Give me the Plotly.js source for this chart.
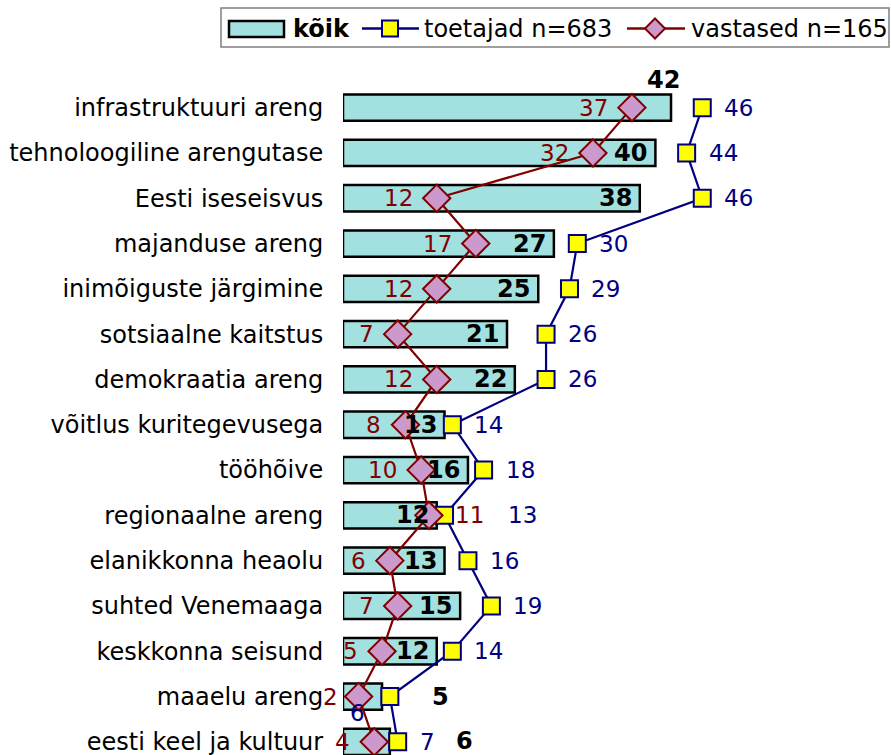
<!DOCTYPE html>
<html>
<head>
<meta charset="utf-8">
<script src="https://cdn.plot.ly/plotly-3.0.1.min.js"></script>
<style>html,body{margin:0;padding:0;background:#fff;}#chart{width:891px;height:755px;}</style>
</head>
<body>
<div id="chart"></div>
<script>
// ---- data ----
const categories = ["infrastruktuuri areng","tehnoloogiline arengutase","Eesti iseseisvus","majanduse areng","inimõiguste järgimine","sotsiaalne kaitstus","demokraatia areng","võitlus kuritegevusega","tööhõive","regionaalne areng","elanikkonna heaolu","suhted Venemaaga","keskkonna seisund","maaelu areng","eesti keel ja kultuur"];
const koik = [42,40,38,27,25,21,22,13,16,12,13,15,12,5,6];
const toetajad = [46,44,46,30,29,26,26,14,18,13,16,19,14,6,7];
const vastased = [37,32,12,17,12,7,12,8,10,11,6,7,5,2,4];
const seriesNames = ["kõik","toetajad n=683","vastased n=165"];

// ---- style ----
const FONT = "DejaVu Sans, Verdana, sans-serif";
const FS_CAT = 24;   // category + legend text
const FS_NUM = 23;   // value labels
const FS_BOLD = 24;  // bold bar labels
const BAR_FILL = "#a3e0e0";
const NAVY = "#000080";
const DRED = "#800000";
const PINK = "#cc99cc";
const YEL = "#ffff00";

const W = 891, H = 755, ML = 343, MT = 85;
const PW = W - ML, PH = H - MT;
const px2x = p => (p - ML) / PW;
const py2y = p => (H - p) / PH;

// label placement tweaks (styles only)
const koikTweak = {0:{xanchor:"center", xshift:-8, yshift:28}, 13:{xanchor:"center", xshift:58}, 14:{xanchor:"center", xshift:75, yshift:1}};
const toetTweak = {9:{xshift:61}, 13:{xanchor:"center", xshift:-32, yshift:-16}};
const vastTweak = {9:{xanchor:"left", xshift:24}, 13:{xshift:-19}};

const traces = [
  {type:"bar", orientation:"h", y:categories, x:koik, width:0.58, name:seriesNames[0],
   marker:{color:BAR_FILL, line:{color:"#000", width:2.5}}, hoverinfo:"x+y", showlegend:false},
  {type:"scatter", mode:"lines+markers", y:categories, x:toetajad, name:seriesNames[1],
   line:{color:NAVY, width:2.2}, marker:{symbol:"square", size:17, color:YEL, line:{color:NAVY, width:2}},
   cliponaxis:false, showlegend:false},
  {type:"scatter", mode:"lines+markers", y:categories, x:vastased, name:seriesNames[2],
   line:{color:DRED, width:2.2}, marker:{symbol:"diamond", size:21, color:PINK, line:{color:DRED, width:2}},
   cliponaxis:false, showlegend:false}
];

const annotations = [];
categories.forEach((c,i)=>{
  const kt = koikTweak[i] || {};
  annotations.push({x:koik[i], y:c, xref:"x", yref:"y", text:"<b>"+koik[i]+"</b>", showarrow:false,
    xanchor:kt.xanchor||"right", xshift:(kt.xshift!==undefined?kt.xshift:-6), yshift:kt.yshift||0,
    font:{family:FONT, size:FS_BOLD, color:"#000"}});
  const tt = toetTweak[i] || {};
  annotations.push({x:toetajad[i], y:c, xref:"x", yref:"y", text:String(toetajad[i]), showarrow:false,
    xanchor:tt.xanchor||"left", xshift:(tt.xshift!==undefined?tt.xshift:20), yshift:tt.yshift||0,
    font:{family:FONT, size:FS_NUM, color:NAVY}});
  const vt = vastTweak[i] || {};
  annotations.push({x:vastased[i], y:c, xref:"x", yref:"y", text:String(vastased[i]), showarrow:false,
    xanchor:vt.xanchor||"right", xshift:(vt.xshift!==undefined?vt.xshift:-22), yshift:vt.yshift||0,
    font:{family:FONT, size:FS_NUM, color:DRED}});
});

// custom legend
const LY = 28.5;
const shapes = [
  {type:"rect", xref:"paper", yref:"paper", x0:px2x(221), x1:px2x(889), y0:py2y(47), y1:py2y(8), line:{color:"#808080", width:1.5}, fillcolor:"rgba(0,0,0,0)"},
  {type:"rect", xref:"paper", yref:"paper", x0:px2x(229), x1:px2x(284), y0:py2y(37), y1:py2y(21), line:{color:"#000", width:2.5}, fillcolor:BAR_FILL},
  {type:"line", xref:"paper", yref:"paper", x0:px2x(362), x1:px2x(419), y0:py2y(LY), y1:py2y(LY), line:{color:NAVY, width:2.5}},
  {type:"rect", xref:"paper", yref:"paper", x0:px2x(382), x1:px2x(398), y0:py2y(LY+8), y1:py2y(LY-8), line:{color:NAVY, width:2}, fillcolor:YEL},
  {type:"line", xref:"paper", yref:"paper", x0:px2x(627), x1:px2x(685), y0:py2y(LY), y1:py2y(LY), line:{color:DRED, width:2.5}},
  {type:"path", xref:"paper", yref:"paper",
   path:`M ${px2x(655)} ${py2y(LY-10)} L ${px2x(665)} ${py2y(LY)} L ${px2x(655)} ${py2y(LY+10)} L ${px2x(645)} ${py2y(LY)} Z`,
   line:{color:DRED, width:2}, fillcolor:PINK}
];
annotations.push({xref:"paper", yref:"paper", x:px2x(291), y:py2y(LY), text:"<b>"+seriesNames[0]+"</b>", showarrow:false, xanchor:"left", yanchor:"middle", font:{family:FONT, size:FS_CAT, color:"#000"}});
annotations.push({xref:"paper", yref:"paper", x:px2x(422), y:py2y(LY), text:seriesNames[1], showarrow:false, xanchor:"left", yanchor:"middle", font:{family:FONT, size:FS_CAT, color:"#000"}});
annotations.push({xref:"paper", yref:"paper", x:px2x(689), y:py2y(LY), text:seriesNames[2], showarrow:false, xanchor:"left", yanchor:"middle", font:{family:FONT, size:FS_CAT, color:"#000"}});

const layout = {
  width:W, height:H, margin:{l:ML, r:0, t:MT, b:0, pad:0},
  paper_bgcolor:"#fff", plot_bgcolor:"#fff", showlegend:false,
  font:{family:FONT, size:FS_CAT, color:"#000"},
  xaxis:{range:[0, PW/7.81], visible:false, fixedrange:true},
  yaxis:{type:"category", range:[14.29, -0.5], showgrid:false, zeroline:false, showline:false,
    ticks:"outside", ticklen:14, tickcolor:"rgba(0,0,0,0)", tickfont:{family:FONT, size:FS_CAT, color:"#000"},
    automargin:false, fixedrange:true},
  bargap:0.42,
  shapes:shapes, annotations:annotations
};

Plotly.newPlot("chart", traces, layout, {displayModeBar:false, staticPlot:true});
</script>
</body>
</html>
